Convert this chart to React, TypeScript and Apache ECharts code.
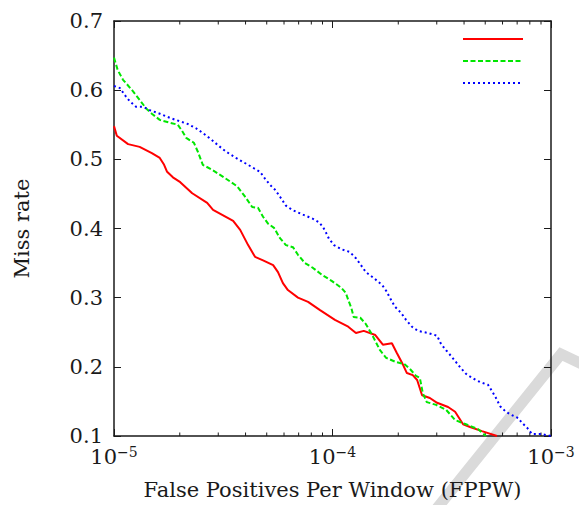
import React, { useEffect, useRef } from "react";
import * as echarts from "echarts";

// ---- Data ----
const xTickValues = [1e-5, 1e-4, 1e-3];
const yTickLabels = ["0.1", "0.2", "0.3", "0.4", "0.5", "0.6", "0.7"];
const minorTickValues = [
  2e-5, 3e-5, 4e-5, 5e-5, 6e-5, 7e-5, 8e-5, 9e-5,
  2e-4, 3e-4, 4e-4, 5e-4, 6e-4, 7e-4, 8e-4, 9e-4,
];

const redFppw = [
  1.0e-5, 1.03e-5, 1.16e-5, 1.31e-5, 1.49e-5, 1.62e-5, 1.69e-5, 1.75e-5, 1.86e-5, 2.01e-5,
  2.28e-5, 2.67e-5, 2.84e-5, 3.33e-5, 3.51e-5, 3.78e-5, 4.11e-5, 4.42e-5, 4.81e-5, 5.35e-5,
  5.63e-5, 5.93e-5, 6.25e-5, 6.95e-5, 7.73e-5, 8.77e-5, 1.026e-4, 1.18e-4, 1.28e-4, 1.39e-4,
  1.57e-4, 1.7e-4, 1.87e-4, 1.97e-4, 2.08e-4, 2.19e-4, 2.33e-4, 2.44e-4, 2.57e-4, 2.79e-4,
  3.01e-4, 3.38e-4, 3.64e-4, 3.96e-4, 4.26e-4, 4.83e-4, 5.66e-4,
];
const redMiss = [
  0.548, 0.534, 0.522, 0.518, 0.509, 0.502, 0.493, 0.482, 0.474, 0.467,
  0.451, 0.437, 0.427, 0.415, 0.411, 0.398, 0.376, 0.359, 0.354, 0.347,
  0.337, 0.321, 0.311, 0.3, 0.294, 0.282, 0.268, 0.258, 0.249, 0.252,
  0.246, 0.232, 0.234, 0.22, 0.206, 0.191, 0.188, 0.181, 0.159, 0.155,
  0.148, 0.142, 0.135, 0.117, 0.113, 0.107, 0.1,
];

const greenFppw = [
  1.0e-5, 1.04e-5, 1.1e-5, 1.21e-5, 1.31e-5, 1.4e-5, 1.49e-5, 1.62e-5, 1.8e-5, 1.96e-5,
  2.05e-5, 2.14e-5, 2.32e-5, 2.42e-5, 2.55e-5, 2.81e-5, 3.22e-5, 3.66e-5, 3.98e-5, 4.29e-5,
  4.56e-5, 4.81e-5, 5.07e-5, 5.4e-5, 5.75e-5, 6.12e-5, 6.59e-5, 6.95e-5, 7.48e-5, 8.14e-5,
  8.95e-5, 9.95e-5, 1.1e-4, 1.15e-4, 1.18e-4, 1.22e-4, 1.25e-4, 1.34e-4, 1.42e-4, 1.52e-4,
  1.65e-4, 1.76e-4, 1.95e-4, 2.13e-4, 2.26e-4, 2.41e-4, 2.51e-4, 2.59e-4, 2.7e-4, 2.98e-4,
  3.31e-4, 3.64e-4, 4.08e-4, 4.63e-4, 5.04e-4,
];
const greenMiss = [
  0.647, 0.629, 0.615, 0.6, 0.586, 0.574, 0.566, 0.557, 0.553, 0.55,
  0.541, 0.531, 0.524, 0.511, 0.492, 0.485, 0.473, 0.461, 0.446, 0.431,
  0.43, 0.417, 0.407, 0.401, 0.386, 0.376, 0.373, 0.362, 0.35, 0.343,
  0.333, 0.324, 0.314, 0.307, 0.297, 0.285, 0.272, 0.271, 0.262, 0.246,
  0.224, 0.213, 0.207, 0.204, 0.197, 0.187, 0.184, 0.162, 0.149, 0.145,
  0.138, 0.123, 0.117, 0.11, 0.1,
];

const blueFppw = [
  1.0e-5, 1.065e-5, 1.12e-5, 1.18e-5, 1.26e-5, 1.36e-5, 1.46e-5, 1.62e-5, 1.8e-5, 2.0e-5,
  2.18e-5, 2.37e-5, 2.55e-5, 2.78e-5, 3.03e-5, 3.26e-5, 3.62e-5, 4.11e-5, 4.66e-5, 4.91e-5,
  5.18e-5, 5.46e-5, 5.75e-5, 6.12e-5, 6.53e-5, 7.33e-5, 8.14e-5, 8.67e-5, 9.05e-5, 9.34e-5,
  9.64e-5, 1.016e-4, 1.1e-4, 1.2e-4, 1.28e-4, 1.35e-4, 1.42e-4, 1.55e-4, 1.69e-4, 1.76e-4,
  1.83e-4, 1.93e-4, 2.06e-4, 2.17e-4, 2.31e-4, 2.46e-4, 2.73e-4, 3.01e-4, 3.14e-4, 3.31e-4,
  3.48e-4, 3.67e-4, 3.87e-4, 4.08e-4, 4.35e-4, 4.73e-4, 5.15e-4, 5.37e-4, 5.6e-4, 5.85e-4,
  6.22e-4, 6.64e-4, 7.07e-4, 7.37e-4, 7.77e-4, 8.18e-4, 9.0e-4, 1.0e-3,
];
const blueMiss = [
  0.606, 0.603, 0.593, 0.584, 0.576, 0.576, 0.571, 0.566, 0.56, 0.555,
  0.551, 0.545, 0.538, 0.529, 0.519, 0.511, 0.502, 0.492, 0.482, 0.472,
  0.463, 0.456, 0.446, 0.433, 0.427, 0.42, 0.414, 0.409, 0.402, 0.394,
  0.385, 0.376, 0.37, 0.366, 0.357, 0.347, 0.337, 0.328, 0.318, 0.31,
  0.3, 0.287, 0.278, 0.268, 0.258, 0.252, 0.249, 0.245, 0.233, 0.224,
  0.216, 0.207, 0.198, 0.19, 0.184, 0.178, 0.174, 0.165, 0.155, 0.143,
  0.135, 0.13, 0.126, 0.119, 0.112, 0.103, 0.103, 0.1,
];

const X_MIN = 1e-5;
const X_MAX = 1e-3;
const Y_MIN = 0.1;
const Y_MAX = 0.7;

const zip = (xs: number[], ys: number[]) => xs.map((x, i) => [x, ys[i]]);

const FONT = "DejaVu Serif";
const INK = "#1a1a1a";
const RED = "#ff0000";
const GREEN = "#00e600";
const BLUE = "#0000ff";

export default function App() {
  const ref = useRef<HTMLDivElement>(null);

  useEffect(() => {
    if (!ref.current) return;
    const chart = echarts.init(ref.current, undefined, { renderer: "svg" });

    const axisLine = { show: true, lineStyle: { color: INK, width: 1.5 } };
    const majorTick = { show: true, inside: true, length: 7, lineStyle: { color: INK, width: 1 } };

    const option: any = {
      animation: false,
      backgroundColor: "#ffffff",
      grid: {
        left: 114,
        top: 21,
        right: 28,
        bottom: 69,
        containLabel: false,
        outerBoundsMode: "none",
      },
      xAxis: [
        {
          type: "log",
          logBase: 10,
          min: X_MIN,
          max: X_MAX,
          position: "bottom",
          axisLine,
          axisTick: majorTick,
          splitLine: { show: false },
          minorTick: { show: false },
          name: "False Positives Per Window (FPPW)",
          nameLocation: "middle",
          nameGap: 43,
          nameTextStyle: { fontFamily: FONT, fontSize: 21, color: INK },
          axisLabel: {
            margin: 9,
            color: INK,
            formatter: (v: number) => {
              const e = Math.round(Math.log10(v));
              const idx = xTickValues.findIndex((t) => Math.round(Math.log10(t)) === e);
              if (idx < 0) return "";
              return `{b|10}{s|\u2212${Math.abs(e)}}`;
            },
            rich: {
              b: { fontFamily: FONT, fontSize: 21, lineHeight: 24, color: INK },
              s: { fontFamily: FONT, fontSize: 14, lineHeight: 14, verticalAlign: "top", color: INK },
            },
          },
        },
        {
          type: "log",
          logBase: 10,
          min: X_MIN,
          max: X_MAX,
          position: "top",
          axisLine,
          axisTick: majorTick,
          axisLabel: { show: false },
          splitLine: { show: false },
        },
      ],
      yAxis: [
        {
          type: "value",
          min: Y_MIN,
          max: Y_MAX,
          interval: 0.1,
          position: "left",
          axisLine,
          axisTick: majorTick,
          splitLine: { show: false },
          name: "Miss rate",
          nameLocation: "middle",
          nameGap: 82,
          nameTextStyle: { fontFamily: FONT, fontSize: 21, color: INK },
          axisLabel: {
            margin: 11,
            color: INK,
            fontFamily: FONT,
            fontSize: 21,
            formatter: (v: number) => {
              const i = Math.round((v - Y_MIN) * 10);
              return yTickLabels[i] ?? v.toFixed(1);
            },
          },
        },
        {
          type: "value",
          min: Y_MIN,
          max: Y_MAX,
          interval: 0.1,
          position: "right",
          axisLine,
          axisTick: majorTick,
          axisLabel: { show: false },
          splitLine: { show: false },
        },
      ],
      graphic: [
        // faint watermark stroke in the lower right corner
        {
          type: "polyline",
          z: -10,
          silent: true,
          shape: { points: [[434, 512], [561, 354], [590, 368]] },
          style: { stroke: "#dadada", lineWidth: 11, fill: "none", lineJoin: "miter" },
        },
        // legend samples (no labels)
        {
          type: "line",
          z: 100,
          shape: { x1: 463, y1: 39, x2: 523, y2: 39 },
          style: { stroke: RED, lineWidth: 2 },
        },
        {
          type: "line",
          z: 100,
          shape: { x1: 463, y1: 61, x2: 523, y2: 61 },
          style: { stroke: GREEN, lineWidth: 2, lineDash: [5, 2.5] },
        },
        {
          type: "line",
          z: 100,
          shape: { x1: 463, y1: 83, x2: 523, y2: 83 },
          style: { stroke: BLUE, lineWidth: 2, lineDash: [2, 3] },
        },
      ],
      series: [
        {
          type: "custom",
          xAxisIndex: 0,
          yAxisIndex: 0,
          silent: true,
          clip: false,
          z: 1,
          data: minorTickValues.map((v) => [v, Y_MIN]),
          renderItem: (_params: any, api: any) => {
            const v = api.value(0);
            const b = api.coord([v, Y_MIN]);
            const t = api.coord([v, Y_MAX]);
            return {
              type: "group",
              children: [
                {
                  type: "line",
                  shape: { x1: b[0], y1: b[1], x2: b[0], y2: b[1] - 3.5 },
                  style: { stroke: INK, lineWidth: 1 },
                },
                {
                  type: "line",
                  shape: { x1: t[0], y1: t[1], x2: t[0], y2: t[1] + 3.5 },
                  style: { stroke: INK, lineWidth: 1 },
                },
              ],
            };
          },
        },
        {
          name: "red",
          type: "line",
          data: zip(redFppw, redMiss),
          showSymbol: false,
          symbol: "none",
          lineStyle: { color: RED, width: 2 },
          z: 3,
        },
        {
          name: "green",
          type: "line",
          data: zip(greenFppw, greenMiss),
          showSymbol: false,
          symbol: "none",
          lineStyle: { color: GREEN, width: 2, type: [5, 2.5] },
          z: 3,
        },
        {
          name: "blue",
          type: "line",
          data: zip(blueFppw, blueMiss),
          showSymbol: false,
          symbol: "none",
          lineStyle: { color: BLUE, width: 2, type: [2, 3] },
          z: 3,
        },
      ],
    };

    chart.setOption(option);
    return () => chart.dispose();
  }, []);

  return (
    <div
      ref={ref}
      style={{ position: "fixed", left: 0, top: 0, width: 579, height: 505, background: "#fff" }}
    />
  );
}
